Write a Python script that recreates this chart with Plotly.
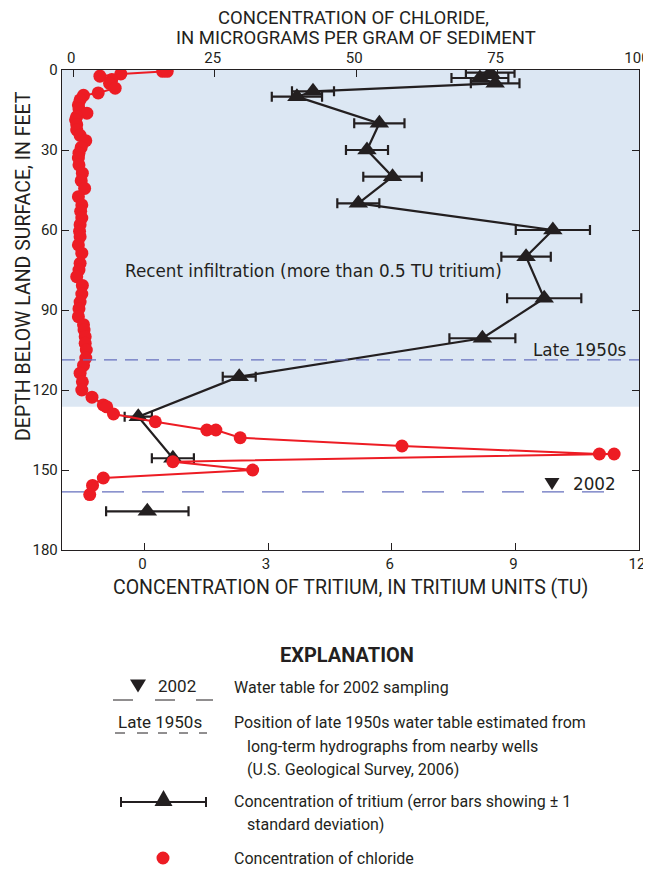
import plotly.graph_objects as go

# ---------------- DATA ----------------
tritium_depth_ft = [1, 3, 5, 8, 10, 20, 30, 40, 50, 60, 70, 85.6, 100.6, 115, 130, 145.6, 165.5]
tritium_tu = [8.39, 8.14, 8.51, 4.09, 3.70, 5.70, 5.40, 6.02, 5.19, 9.91, 9.26, 9.70, 8.20, 2.30, -0.15, 0.69, 0.07]
tritium_sd = [0.59, 0.69, 0.59, 0.51, 0.61, 0.61, 0.51, 0.71, 0.51, 0.90, 0.60, 0.90, 0.80, 0.40, 0.33, 0.51, 1.00]
n_connected = 16  # deepest sample not joined by the line

chloride_depth_ft = [0.5, 0.5, 1.5, 2.3, 3.6, 5.0, 6.8, 8.6, 9.5, 11.2, 13.1, 14.6, 16.2, 17.5, 18.7,
                     20.5, 22.5, 24.5, 26.5, 29.0, 31.2, 33.0, 35.6, 38.7, 41.5, 44.4, 47.5, 50.6,
                     53.0, 55.5, 58.0, 60.5, 62.5, 65.6, 68.7, 72.5, 75.0, 77.5, 80.8, 84.0, 87.0,
                     89.5, 92.5, 95.5, 97.5, 100.0, 102.5, 105.0, 108.0, 110.8, 113.7, 116.9, 120.0,
                     122.7, 125.6, 126.3, 129.0, 131.9, 135.0, 135.0, 137.9, 141.0, 144.0, 144.0,
                     146.9, 150.0, 153.0, 155.8, 159.2]
chloride_ug_g = [15.8, 16.6, 8.4, 4.7, 6.8, 6.4, 7.4, 4.4, 1.8, 1.2, 0.9, 1.0, 2.4, 0.6, 0.4,
                 0.6, 0.6, 1.2, 2.2, 1.4, 1.0, 0.9, 1.0, 1.6, 1.4, 2.0, 0.9, 1.5,
                 1.3, 1.5, 1.2, 1.1, 1.2, 0.9, 1.5, 1.2, 1.0, 0.6, 1.6, 1.5, 1.2,
                 1.0, 0.9, 1.8, 1.9, 2.1, 2.1, 2.3, 2.2, 1.8, 1.2, 1.6, 1.5,
                 3.3, 5.3, 5.9, 7.1, 14.5, 23.6, 25.2, 29.5, 58.1, 93.0, 95.6,
                 17.6, 31.7, 5.3, 3.4, 2.9]

recent_infiltration_bottom_ft = 126.3
late_1950s_wt_ft = 108.7
wt_2002_ft = 158.2

depth_ticks = [0, 30, 60, 90, 120, 150, 180]
tritium_ticks = [0, 3, 6, 9, 12]
chloride_ticks = [0, 25, 50, 75, 100]

# ---------------- STYLE ----------------
RED = "#ED1C24"
INK = "#231F20"
SHADE = "#DCE7F3"
DASH = "#6670BE"
NARROW = "Roboto, Liberation Sans, sans-serif"
REG = "DejaVu Sans, sans-serif"

# page is rendered with an 8px body margin -> shrink figure to compensate
OFF = 8
W, H = 651 - OFF, 869 - OFF
PL, PT, PR, PB = 62, 70, 639, 550  # plot area in page pixels
PW, PH = PR - PL, PB - PT
L, T = PL - OFF, PT - OFF
R = W - L - PW
B = H - T - PH


def px(x, y):
    """page pixel -> paper coords"""
    return (x - PL) / PW, (PB - y) / PH


fig = go.Figure()

# chloride line
fig.add_trace(go.Scatter(x=chloride_ug_g, y=chloride_depth_ft, xaxis="x2", yaxis="y",
                         mode="lines", line=dict(color=RED, width=2), showlegend=False,
                         hoverinfo="skip"))
# tritium line
fig.add_trace(go.Scatter(x=tritium_tu[:n_connected], y=tritium_depth_ft[:n_connected],
                         mode="lines", line=dict(color=INK, width=2.2), showlegend=False,
                         hoverinfo="skip"))
# tritium markers w/ error bars
fig.add_trace(go.Scatter(x=tritium_tu, y=tritium_depth_ft, mode="markers",
                         marker=dict(symbol="triangle-up", size=17, color=INK),
                         error_x=dict(type="data", array=tritium_sd, color=INK,
                                      thickness=2.2, width=5),
                         showlegend=False, name="Tritium"))
# chloride markers
fig.add_trace(go.Scatter(x=chloride_ug_g, y=chloride_depth_ft, xaxis="x2", yaxis="y",
                         mode="markers", marker=dict(symbol="circle", size=13, color=RED),
                         showlegend=False, name="Chloride"))

shapes = []
# shaded region
shapes.append(dict(type="rect", xref="paper", yref="y", x0=0, x1=1, y0=0,
                   y1=recent_infiltration_bottom_ft, fillcolor=SHADE, line=dict(width=0),
                   layer="below"))
# water table lines
shapes.append(dict(type="line", xref="paper", yref="y", x0=0, x1=1,
                   y0=late_1950s_wt_ft, y1=late_1950s_wt_ft,
                   line=dict(color=DASH, width=1.3, dash="13px,8px")))
shapes.append(dict(type="line", xref="paper", yref="y", x0=0, x1=(620 - PL) / PW,
                   y0=wt_2002_ft, y1=wt_2002_ft,
                   line=dict(color=DASH, width=1.3, dash="22px,18px")))


def tri_path(cx, cy, w, h, up=True):
    if up:
        pts = [(cx - w / 2, cy + h / 2), (cx + w / 2, cy + h / 2), (cx, cy - h / 2)]
    else:
        pts = [(cx - w / 2, cy - h / 2), (cx + w / 2, cy - h / 2), (cx, cy + h / 2)]
    p = [px(*q) for q in pts]
    return "M {},{} L {},{} L {},{} Z".format(p[0][0], p[0][1], p[1][0], p[1][1], p[2][0], p[2][1])


def hline(x0, x1, y, color=INK, width=1.2):
    a = px(x0, y)
    b = px(x1, y)
    shapes.append(dict(type="line", xref="paper", yref="paper", x0=a[0], y0=a[1], x1=b[0], y1=b[1],
                       line=dict(color=color, width=width)))


def vline(x, y0, y1, color=INK, width=2):
    a = px(x, y0)
    b = px(x, y1)
    shapes.append(dict(type="line", xref="paper", yref="paper", x0=a[0], y0=a[1], x1=b[0], y1=b[1],
                       line=dict(color=color, width=width)))


# in-plot 2002 triangle
shapes.append(dict(type="path", xref="paper", yref="paper", path=tri_path(552, 484, 15, 12, up=False),
                   fillcolor=INK, line=dict(width=0)))

# legend symbols
shapes.append(dict(type="path", xref="paper", yref="paper", path=tri_path(138, 686, 16, 13, up=False),
                   fillcolor=INK, line=dict(width=0)))
for a, b in [(113, 133), (155, 175), (196, 213)]:
    hline(a, b, 700, INK, 1.0)
for a, b in [(115, 125), (137, 148), (158, 167), (179, 188), (199, 207)]:
    hline(a, b, 733, INK, 1.0)
hline(121, 206, 802, INK, 2)
vline(121, 797, 807)
vline(206, 797, 807)
shapes.append(dict(type="path", xref="paper", yref="paper", path=tri_path(163.5, 798, 18, 16, up=True),
                   fillcolor=INK, line=dict(width=0)))
c0 = px(156.5, 864.5)
c1 = px(169.5, 851.5)
shapes.append(dict(type="circle", xref="paper", yref="paper", x0=c0[0], y0=c0[1], x1=c1[0], y1=c1[1],
                   fillcolor=RED, line=dict(width=0)))

annotations = []


def text(x, y, s, size=16, family=NARROW, xanchor="left", yanchor="middle", bold=False, color=INK):
    p = px(x, y)
    if bold:
        s = "<b>" + s + "</b>"
    annotations.append(dict(x=p[0], y=p[1], xref="paper", yref="paper", text=s, showarrow=False,
                            xanchor=xanchor, yanchor=yanchor, borderpad=0,
                            font=dict(size=size, family=family, color=color)))


# axis titles
text(354, 18, "CONCENTRATION OF CHLORIDE,", size=18.5, xanchor="center")
text(356, 38, "IN MICROGRAMS PER GRAM OF SEDIMENT", size=18.5, xanchor="center")
text(350, 587, "CONCENTRATION OF TRITIUM, IN TRITIUM UNITS (TU)", size=19.5, xanchor="center")
p = px(23, 266)
annotations.append(dict(x=p[0], y=p[1], xref="paper", yref="paper", text="DEPTH BELOW LAND SURFACE, IN FEET",
                        showarrow=False, textangle=-90, xanchor="center", yanchor="middle",
                        font=dict(size=19.5, family=NARROW, color=INK)))

# in-plot labels
text(313, 271, "Recent infiltration (more than 0.5 TU tritium)", size=16.8, family=REG, xanchor="center")
text(627, 350, "Late 1950s", size=16.8, family=REG, xanchor="right")
text(617, 484, "2002", size=16.8, family=REG, xanchor="right")

# explanation
text(347, 655, "EXPLANATION", size=20, xanchor="center", bold=True)
text(157, 686, "2002", size=17)
text(233, 687, "Water table for 2002 sampling", size=16)
text(160, 722, "Late 1950s", size=17, xanchor="center")
text(233, 722, "Position of late 1950s water table estimated from", size=16)
text(246, 746, "long-term hydrographs from nearby wells", size=16)
text(246, 769, "(U.S. Geological Survey, 2006)", size=16)
text(233, 801, "Concentration of tritium (error bars showing ± 1", size=16)
text(246, 824, "standard deviation)", size=16)
text(233, 858, "Concentration of chloride", size=16)

axis_common = dict(ticks="inside", ticklen=7, tickwidth=1.2, tickcolor=INK, showgrid=False,
                   zeroline=False, showline=True, linecolor=INK, linewidth=1.4,
                   ticklabeloverflow="allow",
                   tickfont=dict(size=15, family=NARROW, color=INK))

fig.update_layout(
    width=W, height=H, margin=dict(l=L, r=R, t=T, b=B, autoexpand=False),
    paper_bgcolor="white", plot_bgcolor="white",
    xaxis=dict(range=[-2, 12], tickvals=tritium_ticks, mirror=False, ticklabelshift=-2, **axis_common),
    xaxis2=dict(range=[-2, 100], tickvals=chloride_ticks, overlaying="x", side="top",
                mirror=False, ticklabelshift=-2, **axis_common),
    yaxis=dict(range=[180, 0], tickvals=depth_ticks, mirror="ticks", **axis_common),
    shapes=shapes, annotations=annotations, showlegend=False,
)

fig.write_html("out.html")
